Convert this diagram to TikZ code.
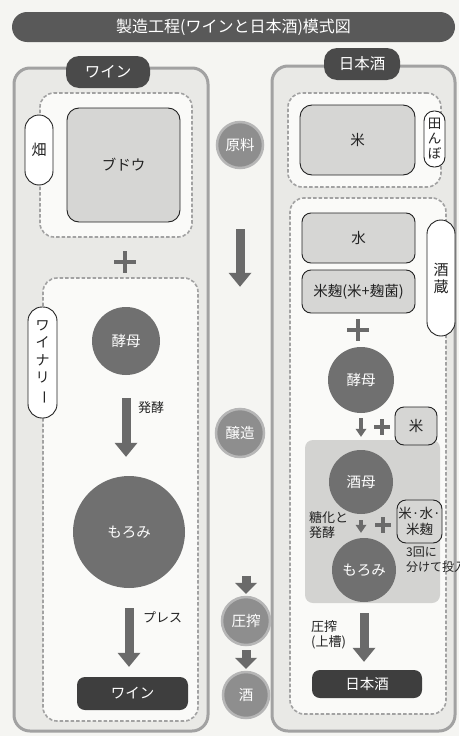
\documentclass[tikz,border=0pt]{standalone}
\usepackage{fontspec}
\setmainfont{Noto Sans CJK JP}
\usepackage{graphicx}
\usetikzlibrary{arrows.meta}
\definecolor{bg}{HTML}{F5F5F2}
\definecolor{outerfill}{HTML}{E9E9E6}
\definecolor{innerfill}{HTML}{FAFAF8}
\definecolor{boxedge}{HTML}{A2A2A2}
\definecolor{titlegray}{HTML}{595959}
\definecolor{tabdark}{HTML}{4A4A4A}
\definecolor{finaldark}{HTML}{3E3E3E}
\definecolor{circdark}{HTML}{707070}
\definecolor{midgray}{HTML}{8E8E8E}
\definecolor{boxgray}{HTML}{D6D6D4}
\definecolor{shadegray}{HTML}{D3D3D1}
\definecolor{arrowgray}{HTML}{6A6A6A}
\definecolor{ink}{HTML}{222222}
\begin{document}
\begin{tikzpicture}[x=1pt,y=-1pt,
  titlebar/.style={fill=titlegray,text=white,rounded corners=15pt,inner sep=0,font=\fontsize{16}{18}\selectfont},
  outerbox/.style={draw=boxedge,line width=3pt,fill=outerfill,rounded corners=16pt,inner sep=0},
  dashbox/.style={draw=boxedge,line width=1.6pt,dash pattern=on 3.5pt off 2pt,fill=innerfill,rounded corners=14pt,inner sep=0},
  tab/.style={fill=tabdark,text=white,rounded corners=13pt,inner sep=0,font=\fontsize{15.5}{17}\selectfont},
  pill/.style={draw=ink,line width=0.9pt,fill=white,align=center,inner sep=0,text=ink},
  graybox/.style={draw=ink,line width=0.9pt,fill=boxgray,rounded corners=9pt,align=center,inner sep=0,text=ink,font=\fontsize{14.5}{16}\selectfont},
  darkcirc/.style={circle,fill=circdark,text=white,inner sep=0,font=\fontsize{14.5}{16}\selectfont},
  midcirc/.style={circle,fill=midgray,draw=midgray!65!white,line width=2.5pt,text=white,inner sep=0,font=\fontsize{14.5}{16}\selectfont},
  finalbox/.style={fill=finaldark,text=white,rounded corners=8pt,inner sep=0,font=\fontsize{14.5}{16}\selectfont},
  bigarrow/.style={draw=arrowgray,line width=9pt,-{Triangle[width=23pt,length=14pt,line width=0pt]}},
  smallarrow/.style={draw=arrowgray,line width=4.5pt,-{Triangle[width=11pt,length=8pt,line width=0pt]}},
  midsmall/.style={draw=arrowgray,line width=9pt,-{Triangle[width=22pt,length=11pt,line width=0pt]}},
  lbl/.style={font=\fontsize{13}{15}\selectfont,align=left,inner sep=0,anchor=west,text=ink},
  plusmark/.style={draw=arrowgray,line width=3.5pt}]
\useasboundingbox (0,0) rectangle (459,736);
\clip (0,0) rectangle (459,736);
\fill[bg] (0,0) rectangle (459,736);

% title
\node[titlebar,minimum width=443,minimum height=30] (title) at (233.5,27) {製造工程(ワインと日本酒)模式図};

% outer boxes
\node[outerbox,minimum width=194,minimum height=663] (wineBox) at (111,399.5) {};
\node[outerbox,minimum width=183,minimum height=665] (sakeBox) at (363.5,398.5) {};
\node[tab,minimum width=84,minimum height=32] (wineTab) at (108,72) {ワイン};
\node[tab,minimum width=76,minimum height=32] (sakeTab) at (362,64) {日本酒};

% dashed areas
\node[dashbox,minimum width=152,minimum height=144] (fieldL) at (116,165) {};
\node[dashbox,minimum width=155,minimum height=443] (wineryL) at (120.5,499.5) {};
\node[dashbox,minimum width=153,minimum height=94] (fieldR) at (364.5,140) {};
\node[dashbox,minimum width=156,minimum height=516] (kuraR) at (368,456) {};

% shaded region on the right
\fill[shadegray,rounded corners=8pt] (305,440) rectangle (440,603);

% pills
\node[pill,rounded corners=14pt,minimum width=28,minimum height=70,font=\fontsize{15}{17}\selectfont] (hata) at (39,150) {畑};
\node[pill,rounded corners=14pt,minimum width=29,minimum height=111,font=\fontsize{14}{17.5}\selectfont] (winery) at (42.5,362.5) {ワ\\イ\\ナ\\リ\\\rotatebox[origin=c]{-90}{ー}};
\node[pill,rounded corners=10pt,minimum width=21,minimum height=56,font=\fontsize{13.5}{15}\selectfont] (tanbo) at (434.5,139) {田\\ん\\ぼ};
\node[pill,rounded corners=14pt,minimum width=28,minimum height=116,font=\fontsize{15}{17}\selectfont] (sakagura) at (441,278) {酒\\蔵};

% raw material boxes
\node[graybox,rounded corners=12pt,minimum width=113,minimum height=114] (budou) at (123.5,165) {ブドウ};
\node[graybox,rounded corners=12pt,minimum width=115,minimum height=70] (kome) at (357.5,140) {米};
\node[graybox,minimum width=113,minimum height=50] (mizu) at (358.5,238) {水};
\node[graybox,minimum width=113,minimum height=43] (koji) at (358.5,291.5) {米麹(米+麹菌)};
\node[graybox,minimum width=42,minimum height=38] (kome2) at (416,426) {米};
\node[graybox,minimum width=45,minimum height=43,font=\fontsize{13.5}{16}\selectfont] (kome3) at (419.5,521.5) {米·水·\\米麹};

% circles
\node[darkcirc,minimum size=68] (yeastL) at (126,341) {酵母};
\node[darkcirc,minimum size=112] (moromiL) at (129,532) {もろみ};
\node[darkcirc,minimum size=66] (yeastR) at (361,380) {酵母};
\node[darkcirc,minimum size=64] (shubo) at (361,482) {酒母};
\node[darkcirc,minimum size=64] (moromiR) at (364,570) {もろみ};

% middle column
\node[midcirc,minimum size=46] (genryo) at (240,145) {原料};
\node[midcirc,minimum size=48] (jouzou) at (240,433) {醸造};
\node[midcirc,minimum size=48] (assaku) at (246,621) {圧搾};
\node[midcirc,minimum size=46] (sake) at (246,695) {酒};

% final products
\node[finalbox,minimum width=111,minimum height=33] (wineF) at (132.5,693.5) {ワイン};
\node[finalbox,minimum width=110,minimum height=28] (sakeF) at (367,684) {日本酒};

% plus marks
\draw[plusmark] (125,251) -- (125,273) (114,262) -- (136,262);
\draw[plusmark] (358,319) -- (358,341) (347,330) -- (369,330);
\draw[plusmark] (382,419) -- (382,435) (374,427) -- (390,427);
\draw[plusmark] (383,517) -- (383,533) (375,525) -- (391,525);

% arrows
\draw[bigarrow] ([yshift=-23pt]yeastL.south) -- ([yshift=19pt]yeastL.south |- moromiL.north);
\draw[bigarrow] ([yshift=-20pt]moromiL.south) -- ([yshift=10pt]moromiL.south |- wineF.north);
\draw[bigarrow] ([yshift=-60pt]genryo.south) -- ([yshift=121pt]jouzou.north);
\draw[midsmall] ([yshift=20pt]assaku.north) -- ([yshift=2pt]assaku.north);
\draw[midsmall] ([yshift=-4pt]assaku.south) -- ([yshift=2pt]sake.north);
\draw[smallarrow] ([yshift=-5pt]yeastR.south) -- ([yshift=13pt]yeastR.south |- shubo.north);
\draw[smallarrow] ([yshift=-6pt]shubo.south) -- ([yshift=5pt]shubo.south |- moromiR.north);
\draw[bigarrow] ([yshift=-11pt]moromiR.south) -- ([yshift=8pt]moromiR.south |- sakeF.north);

% labels
\node[lbl] (lblHakkouL) at (138,408) {発酵};
\node[lbl] (lblPress) at (143,617) {プレス};
\node[lbl] (lblToka) at (309,525) {糖化と\\発酵};
\node[lbl,font=\fontsize{12}{15}\selectfont] (lblSankai) at (406,559.5) {3回に\\分けて投入};
\node[lbl] (lblAssaku) at (311,634.5) {圧搾\\(上槽)};
\end{tikzpicture}
\end{document}
